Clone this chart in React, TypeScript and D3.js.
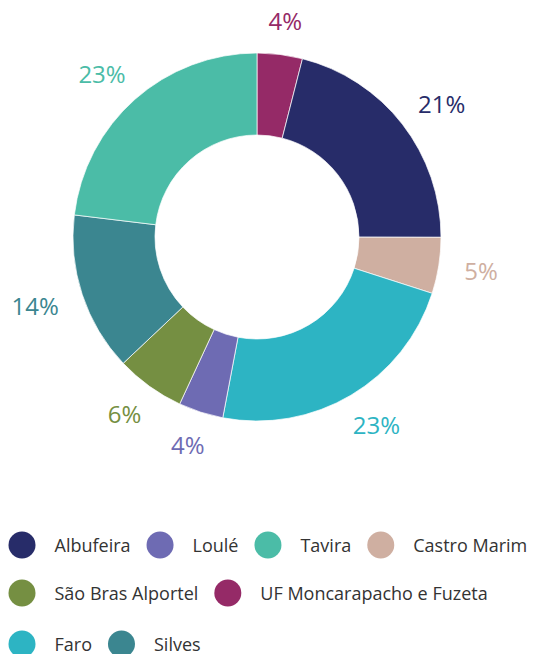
import React from "react";
import * as d3 from "d3";

// Slices in drawing order (clockwise from 12 o'clock)
const sliceNames = ["UF Moncarapacho e Fuzeta", "Albufeira", "Castro Marim", "Faro", "Loulé", "São Bras Alportel", "Silves", "Tavira"];
const sliceValues = [3.97, 21.03, 4.92, 23.0, 3.92, 6.05, 13.94, 23.06];

// Legend order
const legendNames = ["Albufeira", "Loulé", "Tavira", "Castro Marim", "São Bras Alportel", "UF Moncarapacho e Fuzeta", "Faro", "Silves"];

const colors: Record<string, string> = {
  "Albufeira": "#272c69",
  "Loulé": "#6e6bb3",
  "Tavira": "#4bbca7",
  "Castro Marim": "#cfafa1",
  "São Bras Alportel": "#758f42",
  "UF Moncarapacho e Fuzeta": "#952a67",
  "Faro": "#2db4c3",
  "Silves": "#3b8690",
};

const W = 533;
const H = 654;
const FONT = "'Open Sans', sans-serif";

function measure(text: string, size: number): number {
  if (typeof document !== "undefined") {
    const c = document.createElement("canvas").getContext("2d");
    if (c) {
      c.font = `${size}px 'Open Sans'`;
      return c.measureText(text).width;
    }
  }
  return text.length * size * 0.55;
}

export default function App() {
  const cx = 257;
  const cy = 237;
  const outerR = 184;
  const innerR = 102;
  const labelR = 210;

  const pie = d3.pie<number>().sort(null).value((d) => d);
  const arcs = pie(sliceValues);
  const arc = d3.arc<d3.PieArcDatum<number>>().innerRadius(innerR).outerRadius(outerR);
  const total = d3.sum(sliceValues);

  // Legend flow layout
  const legendFont = 18;
  const r = 13.5;
  const textOff = 2 * r + 19;
  const rowYs = [545, 593, 644];
  const items: { name: string; x: number; y: number }[] = [];
  const x0 = 8.5;
  let x = x0;
  let row = 0;
  legendNames.forEach((name) => {
    const tw = measure(name, legendFont);
    const itemW = textOff + tw;
    if (x + itemW > W + 4 && x > x0) {
      row += 1;
      x = x0;
    }
    items.push({ name, x, y: rowYs[row] });
    x += itemW + 16;
  });

  return (
    <svg width={W} height={H} style={{ position: "absolute", left: 0, top: 0, fontFamily: FONT }}>
      <g transform={`translate(${cx},${cy})`}>
        {arcs.map((a, i) => (
          <path key={i} d={arc(a) || ""} fill={colors[sliceNames[i]]} stroke="#fff" strokeWidth={0.7} />
        ))}
        {arcs.map((a, i) => {
          const mid = (a.startAngle + a.endAngle) / 2;
          const text = `${Math.round((a.value / total) * 100)}%`;
          const tw = measure(text, 24);
          const sx = Math.sin(mid);
          const sy = -Math.cos(mid);
          const px = sx * labelR + sx * (tw / 2);
          const py = sy * labelR + sy * 8;
          return (
            <text key={"l" + i} x={px} y={py} textAnchor="middle" dominantBaseline="central"
              fontSize={24} fill={colors[sliceNames[i]]} fontFamily={FONT}>
              {text}
            </text>
          );
        })}
      </g>
      {items.map((it) => (
        <g key={it.name}>
          <circle cx={it.x + r} cy={it.y} r={r} fill={colors[it.name]} />
          <text x={it.x + textOff} y={it.y} dominantBaseline="central" fontSize={legendFont} fill="#333" fontFamily={FONT}>
            {it.name}
          </text>
        </g>
      ))}
    </svg>
  );
}
